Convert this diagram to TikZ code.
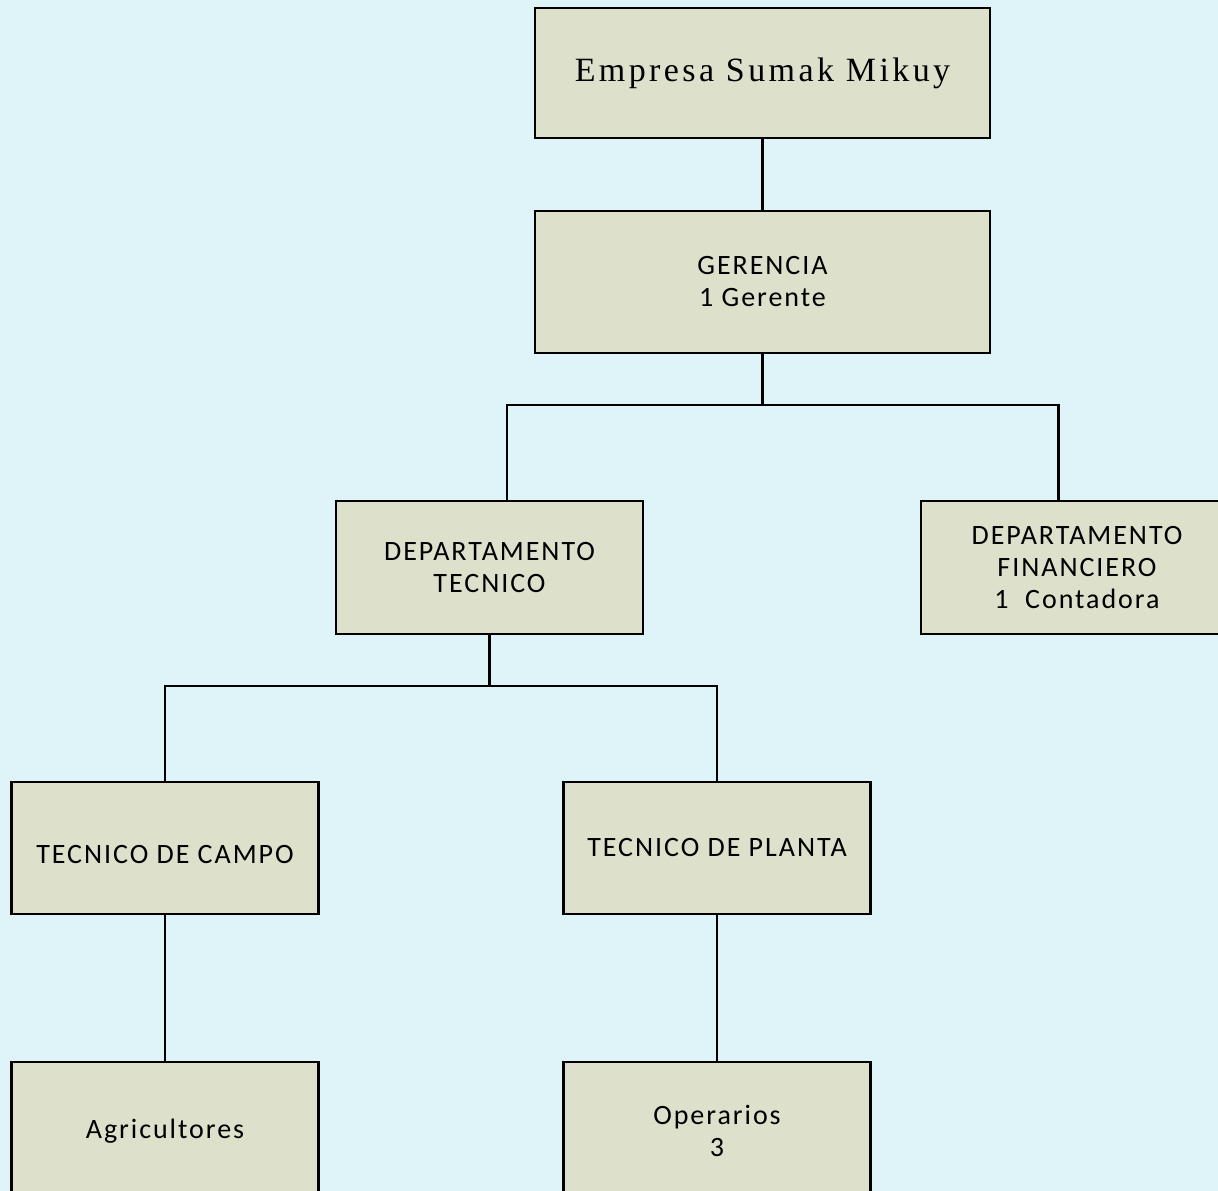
\documentclass[tikz,border=0pt]{standalone}
\usepackage{fontspec}
\usepackage{tikz}
\usetikzlibrary{positioning}
\newfontfamily\cajafont[LetterSpace=7]{Carlito}
\newfontfamily\titulofont[LetterSpace=10]{Liberation Serif}
\definecolor{fondo}{HTML}{DFF4F8}
\definecolor{caja}{HTML}{DDE0CB}
\tikzset{
  basic/.style  = {draw, line width=1.8pt, fill=caja, align=center, inner sep=0pt,
                   font=\cajafont\fontsize{21}{24}\selectfont},
  cargo/.style  = {basic, minimum width=230.25pt, minimum height=99.5pt},
  enlace/.style = {line width=1.8pt}
}

\begin{document}
\begin{tikzpicture}[x=0.75pt,y=-0.75pt]
\fill[fondo] (0,0) rectangle (1218,1191);
\useasboundingbox (0,0) rectangle (1218,1191);
\clip (0,0) rectangle (1218,1191);

\node[basic, minimum width=341.25pt, minimum height=97.5pt,
      font=\titulofont\fontsize{25.5}{28}\selectfont] (emp) at (762.5,73) {Empresa Sumak Mikuy};
\node[basic, minimum width=341.25pt, minimum height=106.5pt] (ger) at (762.5,282) {GERENCIA\\1 Gerente};
\node[cargo] (dtec) at (489.5,567.5) {DEPARTAMENTO\\TECNICO};
\node[cargo, minimum width=234pt] (dfin) at (1077,567.5) {DEPARTAMENTO\\FINANCIERO\\1 \ Contadora};
\node[cargo, minimum height=99pt] (campo) at (165,848) {\mbox{}\\TECNICO DE CAMPO};
\node[cargo, minimum height=99pt] (planta) at (717,848) {TECNICO DE PLANTA};
\node[cargo, minimum height=103.5pt] (agri) at (165,1131) {Agricultores};
\node[cargo, minimum height=103.5pt] (oper) at (717,1131) {Operarios\\3};

% uniones
\coordinate (j1) at (762.5,405);
\coordinate (j2) at (489.5,686);
\draw[enlace] (emp) -- (ger);
\draw[enlace] (ger.south) -- (j1);
\draw[enlace] ([xshift=13pt]dtec.north) |- (j1) -| ([xshift=-14pt]dfin.north);
\draw[enlace] (dtec.south) -- (j2);
\draw[enlace] (campo.north) |- (j2) -| (planta.north);
\draw[enlace] (campo) -- (agri);
\draw[enlace] (planta) -- (oper);
\end{tikzpicture}
\end{document}
